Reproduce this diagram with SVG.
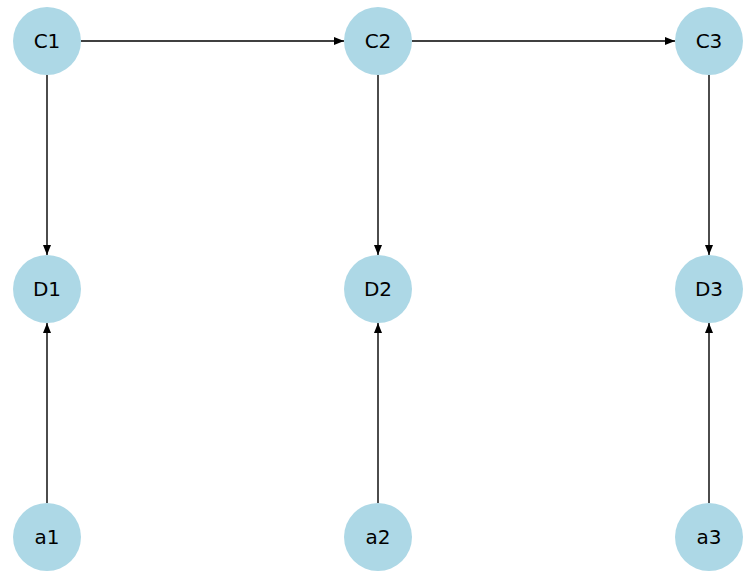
<svg xmlns="http://www.w3.org/2000/svg" width="752" height="572" viewBox="0 0 752 572">
  <style>
    .node circle { fill: #ADD8E6; }
    .node text { font-family: "DejaVu Sans", sans-serif; font-size: 20px; fill: #000; text-anchor: middle; dominant-baseline: central; }
    .edge { stroke: #000; stroke-width: 1.4; fill: none; marker-end: url(#arrow); }
  </style>
  <defs>
    <marker id="arrow" viewBox="0 0 10 8" refX="10" refY="4" markerWidth="10" markerHeight="8" markerUnits="userSpaceOnUse" orient="auto">
      <path d="M0,0 L10,4 L0,8 Z" fill="#000"/>
    </marker>
  </defs>
  <rect width="752" height="572" fill="#fff"/>
  <g id="edges">
    <line class="edge" x1="81" y1="41" x2="344" y2="41"/>
    <line class="edge" x1="412" y1="41" x2="675" y2="41"/>
    <line class="edge" x1="47" y1="75" x2="47" y2="255"/>
    <line class="edge" x1="378" y1="75" x2="378" y2="255"/>
    <line class="edge" x1="709" y1="75" x2="709" y2="255"/>
    <line class="edge" x1="47" y1="503" x2="47" y2="323"/>
    <line class="edge" x1="378" y1="503" x2="378" y2="323"/>
    <line class="edge" x1="709" y1="503" x2="709" y2="323"/>
  </g>
  <g id="C1" class="node"><circle cx="47" cy="41" r="34"/><text x="47" y="41">C1</text></g>
  <g id="C2" class="node"><circle cx="378" cy="41" r="34"/><text x="378" y="41">C2</text></g>
  <g id="C3" class="node"><circle cx="709" cy="41" r="34"/><text x="709" y="41">C3</text></g>
  <g id="D1" class="node"><circle cx="47" cy="289" r="34"/><text x="47" y="289">D1</text></g>
  <g id="D2" class="node"><circle cx="378" cy="289" r="34"/><text x="378" y="289">D2</text></g>
  <g id="D3" class="node"><circle cx="709" cy="289" r="34"/><text x="709" y="289">D3</text></g>
  <g id="a1" class="node"><circle cx="47" cy="537" r="34"/><text x="47" y="537">a1</text></g>
  <g id="a2" class="node"><circle cx="378" cy="537" r="34"/><text x="378" y="537">a2</text></g>
  <g id="a3" class="node"><circle cx="709" cy="537" r="34"/><text x="709" y="537">a3</text></g>
</svg>
